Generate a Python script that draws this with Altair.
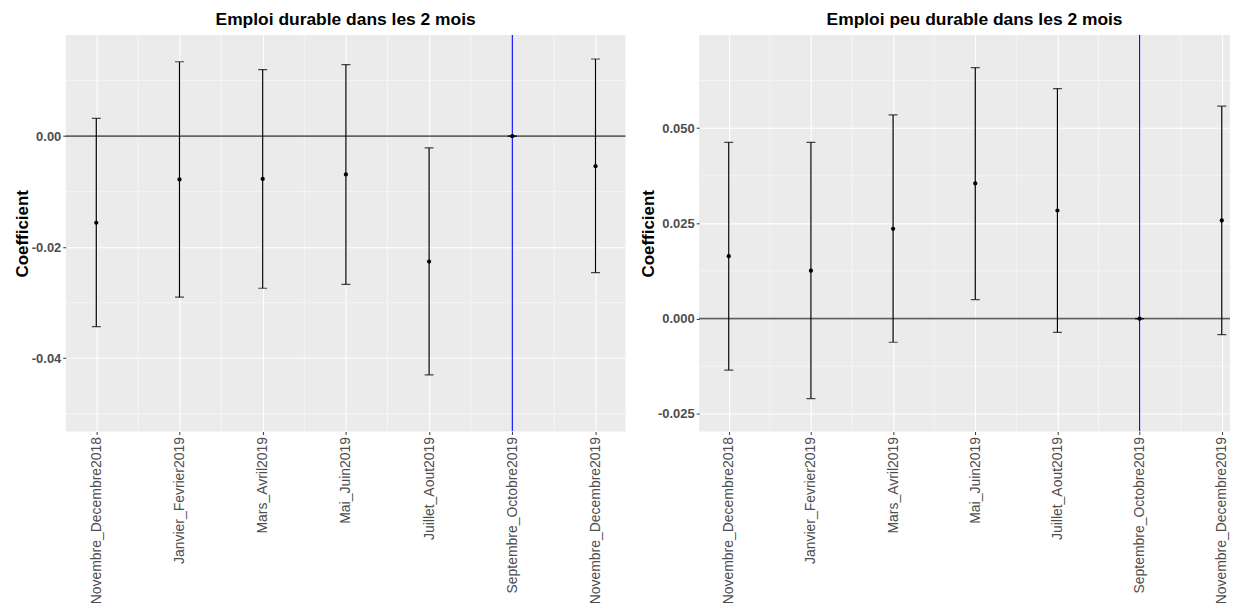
import altair as alt
import pandas as pd

periods = ["Novembre_Decembre2018", "Janvier_Fevrier2019", "Mars_Avril2019",
           "Mai_Juin2019", "Juillet_Aout2019", "Septembre_Octobre2019",
           "Novembre_Decembre2019"]
period_idx = [1, 2, 3, 4, 5, 6, 7]

# Panel 1: Emploi durable
durable_coef = [-0.0156, -0.0078, -0.0077, -0.0069, -0.0226, 0.0, -0.0054]
durable_lo = [-0.0343, -0.0290, -0.0274, -0.0267, -0.0430, 0.0, -0.0246]
durable_hi = [0.0032, 0.0134, 0.0120, 0.0129, -0.0021, 0.0, 0.0139]

# Panel 2: Emploi peu durable
peu_coef = [0.0164, 0.0126, 0.0236, 0.0355, 0.0284, 0.0, 0.0258]
peu_lo = [-0.0135, -0.0210, -0.0062, 0.0050, -0.0036, 0.0, -0.0042]
peu_hi = [0.0463, 0.0463, 0.0535, 0.0659, 0.0604, 0.0, 0.0558]

ref_period = [6]
zero_line = [0.0]

left_major_y = [0.0, -0.02, -0.04]
left_minor_y = [0.01, -0.01, -0.03, -0.05]
right_major_y = [0.05, 0.025, 0.0, -0.025]
right_minor_y = [0.0625, 0.0375, 0.0125, -0.0125]
minor_x = [1.5, 2.5, 3.5, 4.5, 5.5, 6.5]

label_expr = "[" + ",".join("'%s'" % p for p in periods) + "][datum.value - 1]"

BG = "#EBEBEB"
LABEL_GREY = "#4D4D4D"


def panel(title, coef, lo, hi, xdom, ydom, major_y, minor_y, fmt, width, dx):
    df = pd.DataFrame({"idx": period_idx, "period": periods,
                       "coef": coef, "lo": lo, "hi": hi})
    xs = alt.Scale(domain=xdom, nice=False, zero=False)
    ys = alt.Scale(domain=ydom, nice=False, zero=False)

    xaxis = alt.Axis(values=period_idx, labelExpr=label_expr, labelAngle=-90,
                     title=None, grid=True, gridColor="white", gridWidth=1.1,
                     ticks=True, tickSize=3, tickColor="#333333", domain=False,
                     labelFont="Liberation Sans", labelFontSize=14,
                     labelColor=LABEL_GREY, labelPadding=2)
    yaxis = alt.Axis(values=major_y,
                     labelExpr="replace(format(datum.value, '%s'), '\u2212', '-')" % fmt,
                     title="Coefficient", grid=True, gridColor="white", gridWidth=1.1,
                     ticks=True, tickSize=3, tickColor="#333333", domain=False,
                     labelFont="Liberation Sans", labelFontSize=13,
                     labelFontWeight="bold", labelColor=LABEL_GREY, labelPadding=2,
                     titleFont="Liberation Sans", titleFontSize=17,
                     titleFontWeight="bold", titleColor="black", titlePadding=0)

    minor_y_df = pd.DataFrame({"v": minor_y})
    minor_x_df = pd.DataFrame({"v": minor_x})

    base_axes = alt.Chart(df).mark_point(opacity=0).encode(
        x=alt.X("idx:Q", scale=xs, axis=xaxis),
        y=alt.Y("coef:Q", scale=ys, axis=yaxis),
    )
    gy = alt.Chart(minor_y_df).mark_rule(color="white", strokeWidth=0.5).encode(
        y=alt.Y("v:Q", scale=ys))
    gx = alt.Chart(minor_x_df).mark_rule(color="white", strokeWidth=0.5).encode(
        x=alt.X("v:Q", scale=xs))
    hline = alt.Chart(pd.DataFrame({"v": zero_line})).mark_rule(
        color="#000000", opacity=0.6, strokeWidth=1.6).encode(y=alt.Y("v:Q", scale=ys))
    vline = alt.Chart(pd.DataFrame({"v": ref_period})).mark_rule(
        color="#0000FF", strokeWidth=1.1, clip=True).encode(x=alt.X("v:Q", scale=xs))
    bars = alt.Chart(df).mark_rule(color="black", strokeWidth=1.2, clip=True).encode(
        x=alt.X("idx:Q", scale=xs), y=alt.Y("lo:Q", scale=ys), y2="hi:Q")
    cap_lo = alt.Chart(df).mark_tick(color="black", thickness=1.2, size=9,
                                     orient="horizontal", clip=True).encode(
        x=alt.X("idx:Q", scale=xs), y=alt.Y("lo:Q", scale=ys))
    cap_hi = alt.Chart(df).mark_tick(color="black", thickness=1.2, size=9,
                                     orient="horizontal", clip=True).encode(
        x=alt.X("idx:Q", scale=xs), y=alt.Y("hi:Q", scale=ys))
    pts = alt.Chart(df).mark_circle(color="black", size=18, opacity=1, clip=True).encode(
        x=alt.X("idx:Q", scale=xs), y=alt.Y("coef:Q", scale=ys))

    return alt.layer(base_axes, gy, gx, hline, vline, bars, cap_lo, cap_hi, pts).properties(
        width=width, height=398,
        title=alt.TitleParams(title, font="Liberation Sans", fontSize=17.5,
                              fontWeight="bold", color="black", anchor="middle",
                              offset=6, dx=dx),
    )


left = panel("Emploi durable dans les 2 mois", durable_coef, durable_lo, durable_hi,
             [0.633, 7.36], [-0.0532, 0.0182], left_major_y, left_minor_y, ".2f", 562, 0)
right = panel("Emploi peu durable dans les 2 mois", peu_coef, peu_lo, peu_hi,
              [0.64, 7.10], [-0.02963, 0.07445], right_major_y, right_minor_y, ".3f", 533, 10)

chart = alt.hconcat(left, right, spacing=13).properties(
    padding={"left": 5, "top": 2, "right": 0, "bottom": 0},
    background="white",
).configure_view(fill=BG, stroke=None)

chart.save("out.html", embed_options={"renderer": "svg", "actions": False})
